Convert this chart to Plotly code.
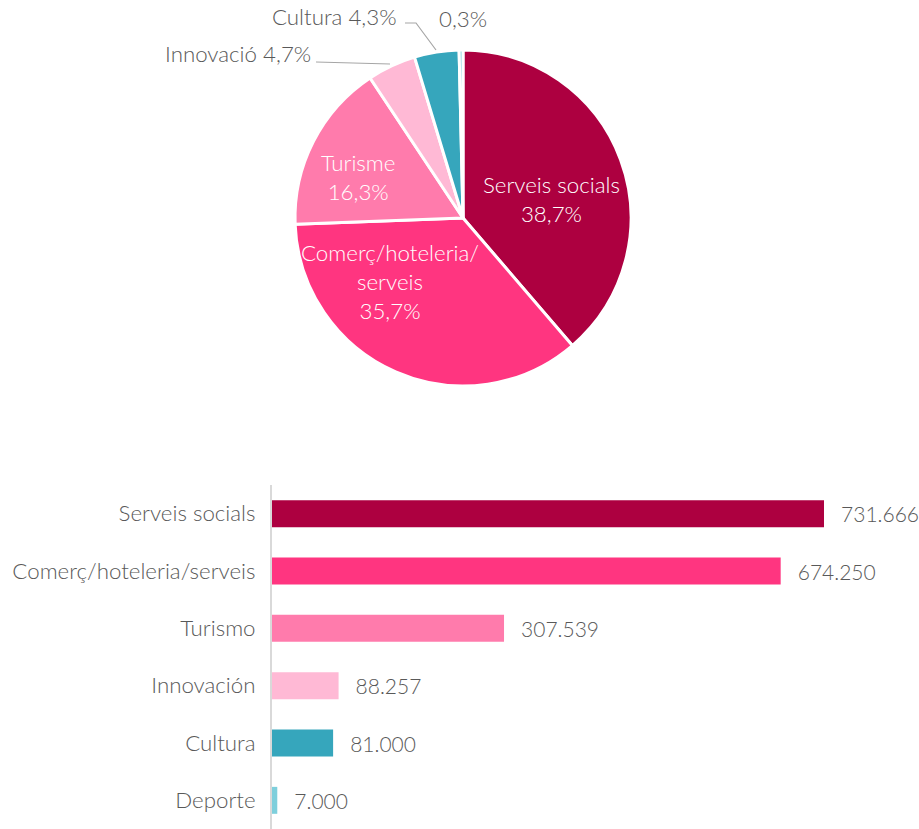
import plotly.graph_objects as go

# ---- data ----
pie_labels = ["Serveis socials", "Comerç/hoteleria/serveis", "Turisme", "Innovació", "Cultura", "Deporte"]
pie_values = [731666, 674250, 307539, 88257, 81000, 7000]
pie_pct_text = ["38,7%", "35,7%", "16,3%", "4,7%", "4,3%", "0,3%"]

bar_categories = ["Serveis socials", "Comerç/hoteleria/serveis", "Turismo", "Innovación", "Cultura", "Deporte"]
bar_values = [731666, 674250, 307539, 88257, 81000, 7000]

colors = ["#AD0040", "#FF3580", "#FF7BAC", "#FFB9D5", "#36A6BC", "#7ECFDC"]

W, H = 919, 829
FONT = "Lato"
GRAY = "#595959"
LBL = 22.3
NUM = 21

def px(x):
    return x / W

def py(y):
    return 1 - y / H

fig = go.Figure()

fig.add_trace(go.Pie(
    labels=pie_labels,
    values=pie_values,
    sort=False,
    direction="clockwise",
    rotation=0,
    marker=dict(colors=colors, line=dict(color="white", width=3)),
    textinfo="none",
    hoverinfo="label+percent",
    domain=dict(x=[px(263), px(663)], y=[py(386), py(50)]),
    showlegend=False,
))

fig.add_trace(go.Bar(
    y=bar_categories,
    x=bar_values,
    orientation="h",
    marker=dict(color=colors, line=dict(width=0)),
    texttemplate="\u00a0\u00a0\u2009%{x:,}",
    textposition="outside",
    textfont=dict(family=FONT, size=NUM, color=GRAY, weight=300),
    cliponaxis=False,
    showlegend=False,
    xaxis="x",
    yaxis="y",
))

annotations = []
inside = [
    (0, pie_labels[0] + "<br>" + pie_pct_text[0], 551, 199),
    (1, "Comerç/hoteleria/<br>serveis<br>" + pie_pct_text[1], 390, 281),
    (2, pie_labels[2] + "<br>" + pie_pct_text[2], 358, 177),
]
for i, txt, x, y in inside:
    annotations.append(dict(
        x=px(x), y=py(y), xref="paper", yref="paper", text=txt, showarrow=False,
        font=dict(family=FONT, size=LBL, color="white", weight=300), align="center",
        xanchor="center", yanchor="middle",
    ))
annotations.append(dict(x=px(313), y=py(53), xref="paper", yref="paper",
                        text=pie_labels[3] + " " + pie_pct_text[3], showarrow=False,
                        font=dict(family=FONT, size=LBL, color=GRAY, weight=300), xanchor="right", yanchor="middle"))
annotations.append(dict(x=px(399), y=py(17), xref="paper", yref="paper",
                        text=pie_labels[4] + " " + pie_pct_text[4], showarrow=False,
                        font=dict(family=FONT, size=LBL, color=GRAY, weight=300), xanchor="right", yanchor="middle"))
annotations.append(dict(x=px(463), y=py(19), xref="paper", yref="paper",
                        text=pie_pct_text[5], showarrow=False,
                        font=dict(family=FONT, size=LBL, color=GRAY, weight=300), xanchor="center", yanchor="middle"))

shapes = [
    dict(type="path", xref="paper", yref="paper",
         path=f"M {px(316)} {py(62)} L {px(390)} {py(64)}",
         line=dict(color="#A6A6A6", width=1.2)),
    dict(type="path", xref="paper", yref="paper",
         path=f"M {px(405)} {py(23)} L {px(416)} {py(23)} L {px(436)} {py(50)}",
         line=dict(color="#A6A6A6", width=1.2)),
]

fig.update_layout(
    width=W, height=H,
    margin=dict(l=0, r=0, t=0, b=0),
    paper_bgcolor="white", plot_bgcolor="white",
    separators=",.",
    font=dict(family=FONT, color=GRAY),
    annotations=annotations,
    shapes=shapes,
    bargap=0.53,
    xaxis=dict(domain=[px(272), px(900)], range=[0, 731666 * (900 - 272) / 552],
               visible=False, fixedrange=True),
    yaxis=dict(domain=[0, py(485)], autorange="reversed", showline=True,
               linecolor="#D9D9D9", linewidth=2, ticks="", showgrid=False,
               tickfont=dict(family=FONT, size=LBL, color=GRAY, weight=300),
               ticklabelstandoff=10, fixedrange=True),
)

fig.write_html("out.html", config={"displayModeBar": False},
               post_script="document.body.style.margin='0';document.body.style.overflow='hidden';")
